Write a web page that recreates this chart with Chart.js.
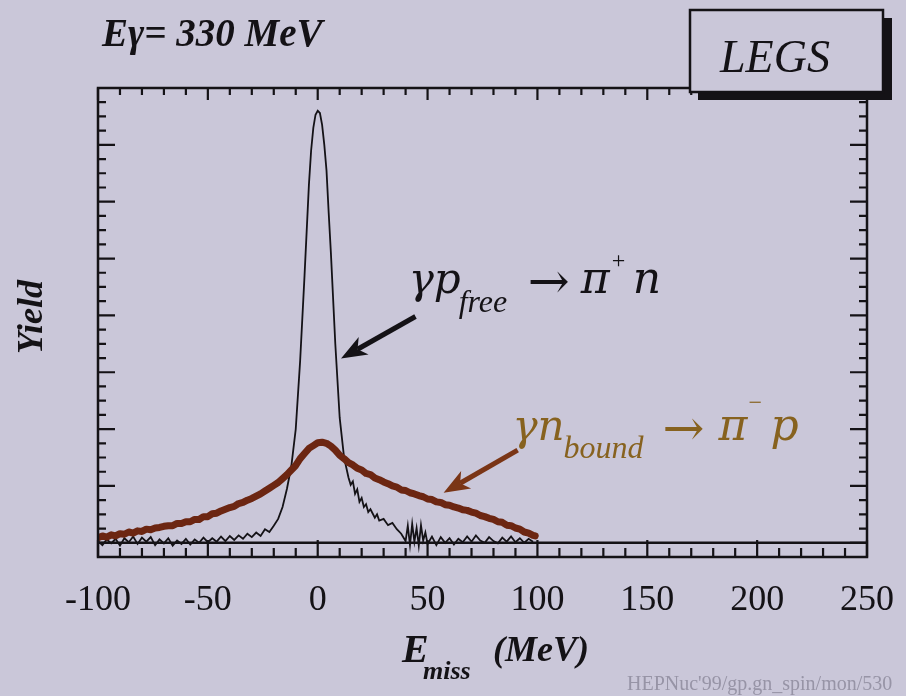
<!DOCTYPE html>
<html>
<head>
<meta charset="utf-8">
<script src="https://cdn.jsdelivr.net/npm/chart.js@4.4.1/dist/chart.umd.min.js"></script>
<style>
  html, body { margin: 0; padding: 0; background: #cac7d9; }
  canvas { display: block; }
</style>
</head>
<body>
<canvas id="chart" width="906" height="696"></canvas>
<script>
// Missing-energy spectra, E_gamma = 330 MeV (LEGS)
// Free-proton reaction  gamma p -> pi+ n
const freeE = [
  -100, -98, -96, -94, -92, -90, -88, -86, -84, -82, -80, -78, -76, -74, -72, -70,
  -68, -66, -64, -62, -60, -58, -56, -54, -52, -50, -48, -46, -44, -42, -40, -38,
  -36, -34, -32, -30, -28, -26, -24, -22, -20, -18, -16, -14, -12, -10, -8, -6,
  -4, -3, -2, -1, 0, 1, 2, 3, 4, 5, 6, 8, 10, 12, 14, 15, 16, 17, 18, 19, 20, 21,
  22, 23, 24, 26, 27, 28, 30, 32, 34, 36, 38, 40, 41, 42, 43, 44, 45, 46, 47, 48,
  49, 50, 52, 54, 56, 58, 60, 62, 64, 66, 68, 70, 72, 74, 76, 78, 80, 82, 84, 86,
  88, 90, 92, 94, 96, 98
];
const freeYield = [
  0.3, -0.4, 0.6, -0.1, 0.7, -0.5, 0.8, 0.1, 1.1, -0.2, 0.9, 0.2, 1.0, -0.4, 0.6, -0.1,
  0.8, -0.5, 0.4, -0.2, 0.7, -0.3, 0.6, 0.0, 0.9, 0.1, 0.8, 0.2, 1.1, 0.3, 1.2, 0.5,
  1.3, 0.7, 1.6, 1.0, 1.8, 1.2, 2.4, 1.9, 3.0, 4.2, 6.3, 9.5, 13.5, 20.0, 32.0, 47.0,
  63.0, 69.0, 73.0, 75.3, 76.0, 75.6, 73.5, 70.0, 65.5, 58.0, 51.0, 35.0, 22.0, 15.0, 11.5, 10.2, 10.8, 8.6, 9.4, 7.2, 7.9, 6.3,
  6.8, 5.4, 5.9, 4.4, 5.0, 3.9, 4.2, 3.1, 3.5, 2.4, 1.6, 0.3, 3.0, -0.4, 3.3, 0.2, 2.6, -0.5, 3.1, 0.4,
  1.8, -0.2, 1.1, -0.4, 1.0, 0.0, 0.8, -0.3, 0.7, 0.1, 1.1, 0.2, 1.3, 0.4, 0.0, 1.0, 0.3, -0.1, 0.9, 0.2,
  1.1, 0.1, 0.8, 0.0, 0.7, 0.2
];

// Bound-neutron reaction  gamma n -> pi- p
const boundE = [
  -100, -98, -96, -94, -92, -90, -88, -86, -84, -82, -80, -78, -76, -74, -72, -70,
  -68, -66, -64, -62, -60, -58, -56, -54, -52, -50, -48, -46, -44, -42, -40, -38,
  -36, -34, -32, -30, -28, -26, -24, -22, -20, -18, -16, -14, -12, -10, -8, -6,
  -4, -2, 0, 2, 4, 6, 8, 10, 12, 14, 16, 18, 20, 22, 24, 26, 28, 30, 32, 34,
  36, 38, 40, 42, 44, 46, 48, 50, 52, 54, 56, 58, 60, 62, 64, 66, 68, 70, 72, 74,
  76, 78, 80, 82, 84, 86, 88, 90, 92, 94, 96, 98, 99
];
const boundYield = [
  0.9, 1.2, 1.0, 1.4, 1.2, 1.6, 1.5, 1.9, 1.7, 2.1, 2.0, 2.4, 2.3, 2.6, 2.7, 2.9,
  3.0, 3.0, 3.4, 3.4, 3.7, 3.7, 4.1, 4.1, 4.6, 4.6, 5.1, 5.2, 5.6, 5.9, 6.2, 6.4,
  6.9, 7.1, 7.5, 7.8, 8.2, 8.6, 9.1, 9.6, 10.1, 10.6, 11.3, 12.0, 12.8, 13.6, 14.8, 15.7,
  16.6, 17.1, 17.6, 17.7, 17.5, 17.0, 16.3, 15.4, 14.8, 14.1, 13.7, 13.1, 12.8, 12.2, 12.0, 11.4, 11.1, 10.7, 10.4, 10.0,
  9.8, 9.3, 9.2, 8.8, 8.6, 8.3, 8.1, 7.7, 7.6, 7.2, 7.1, 6.7, 6.6, 6.3, 6.1, 5.8, 5.7, 5.4, 5.2, 4.8,
  4.6, 4.3, 4.1, 3.7, 3.6, 3.1, 3.0, 2.6, 2.4, 1.9, 1.7, 1.3, 1.2
];

// Axis settings
const xTickValues = [-100, -50, 0, 50, 100, 150, 200, 250];
const xRange = [-100, 250];
const yRange = [-2.5, 80];

// Annotation anchors (data coordinates)
const freeLabelAt = { x: 41.4, y: 43.9 };
const boundLabelAt = { x: 88.6, y: 18.1 };
const freeArrow = { from: { x: 44.5, y: 39.8 }, to: { x: 10.6, y: 32.4 } };
const boundArrow = { from: { x: 91.0, y: 16.3 }, to: { x: 57.3, y: 8.8 } };

const BG = '#cac7d9';
const INK = '#141216';
const BROWN_LINE = '#6c2612';
const BROWN_TEXT = '#87621f';
const BROWN_ARROW = '#7a3516';
const SERIF = '"Liberation Serif", "DejaVu Serif", serif';
const WIDE = '"DejaVu Serif", "Liberation Serif", serif';

const toPoints = (xs, ys) => xs.map((x, i) => ({ x, y: ys[i] }));

function drawArrow(ctx, x1, y1, x2, y2, color) {
  const ang = Math.atan2(y2 - y1, x2 - x1);
  const headLen = 26, headHalf = 10, notch = 7;
  const bx = x2 - Math.cos(ang) * (headLen - notch);
  const by = y2 - Math.sin(ang) * (headLen - notch);
  ctx.save();
  ctx.strokeStyle = color;
  ctx.fillStyle = color;
  ctx.lineWidth = 5;
  ctx.lineCap = 'butt';
  ctx.beginPath();
  ctx.moveTo(x1, y1);
  ctx.lineTo(bx, by);
  ctx.stroke();
  const hx = x2 - Math.cos(ang) * headLen;
  const hy = y2 - Math.sin(ang) * headLen;
  const px = -Math.sin(ang), py = Math.cos(ang);
  ctx.beginPath();
  ctx.moveTo(x2, y2);
  ctx.lineTo(hx + px * headHalf, hy + py * headHalf);
  ctx.lineTo(bx, by);
  ctx.lineTo(hx - px * headHalf, hy - py * headHalf);
  ctx.closePath();
  ctx.fill();
  ctx.restore();
}

function text(ctx, str, x, y, font, color) {
  ctx.font = font;
  ctx.fillStyle = color;
  ctx.fillText(str, x, y);
}

const decor = {
  id: 'decor',
  beforeDraw(chart) {
    const ctx = chart.ctx;
    ctx.save();
    ctx.fillStyle = BG;
    ctx.fillRect(0, 0, chart.width, chart.height);
    ctx.restore();
  },
  afterDatasetsDraw(chart) {
    const ctx = chart.ctx;
    const xs = chart.scales.x, ys = chart.scales.y;
    const { left, right, top, bottom } = chart.chartArea;
    ctx.save();
    ctx.strokeStyle = INK;
    ctx.lineWidth = 2.5;
    ctx.lineCap = 'butt';
    // zero line
    const y0 = ys.getPixelForValue(0);
    ctx.beginPath();
    ctx.moveTo(left, y0);
    ctx.lineTo(right, y0);
    ctx.stroke();
    // frame
    ctx.strokeRect(left, top, right - left, bottom - top);
    // x ticks, every 10 MeV, longer every 50
    ctx.lineWidth = 2.2;
    ctx.beginPath();
    for (let v = xRange[0]; v <= xRange[1]; v += 10) {
      const px = xs.getPixelForValue(v);
      const major = v % 50 === 0;
      ctx.moveTo(px, top);
      ctx.lineTo(px, top + (major ? 12 : 7));
      ctx.moveTo(px, bottom);
      ctx.lineTo(px, bottom - (major ? 17 : 9));
    }
    // y ticks, every 2.5, longer every 10
    for (let v = 0; v <= yRange[1]; v += 2.5) {
      const py = ys.getPixelForValue(v);
      const major = v % 10 === 0;
      ctx.moveTo(left, py);
      ctx.lineTo(left + (major ? 17 : 8), py);
      ctx.moveTo(right, py);
      ctx.lineTo(right - (major ? 17 : 8), py);
    }
    ctx.stroke();
    ctx.restore();
  },
  afterDraw(chart) {
    const ctx = chart.ctx;
    const xs = chart.scales.x, ys = chart.scales.y;
    const X = v => xs.getPixelForValue(v);
    const Y = v => ys.getPixelForValue(v);
    ctx.save();
    ctx.textBaseline = 'alphabetic';
    ctx.textAlign = 'left';

    // arrows
    drawArrow(ctx, X(freeArrow.from.x), Y(freeArrow.from.y), X(freeArrow.to.x), Y(freeArrow.to.y), INK);
    drawArrow(ctx, X(boundArrow.from.x), Y(boundArrow.from.y), X(boundArrow.to.x), Y(boundArrow.to.y), BROWN_ARROW);

    // gamma p_free -> pi+ n
    let ax = X(freeLabelAt.x), ay = Y(freeLabelAt.y);
    text(ctx, 'γp', ax, ay, `italic 42px ${WIDE}`, INK);
    text(ctx, 'free', ax + 50, ay + 19, `italic 32px ${SERIF}`, INK);
    text(ctx, '→', ax + 119, ay + 5, `50px ${WIDE}`, INK);
    text(ctx, 'π', ax + 172, ay, `italic 44px ${WIDE}`, INK);
    text(ctx, '+', ax + 203, ay - 25, `24px ${SERIF}`, INK);
    text(ctx, 'n', ax + 224, ay, `italic 44px ${WIDE}`, INK);

    // gamma n_bound -> pi- p
    ax = X(boundLabelAt.x); ay = Y(boundLabelAt.y);
    text(ctx, 'γn', ax, ay, `italic 42px ${WIDE}`, BROWN_TEXT);
    text(ctx, 'bound', ax + 51, ay + 18, `italic 32px ${SERIF}`, BROWN_TEXT);
    text(ctx, '→', ax + 150, ay + 5, `50px ${WIDE}`, BROWN_TEXT);
    text(ctx, 'π', ax + 206, ay, `italic 44px ${WIDE}`, BROWN_TEXT);
    text(ctx, '−', ax + 236, ay - 30, `24px ${SERIF}`, BROWN_TEXT);
    text(ctx, 'p', ax + 258, ay, `italic 44px ${WIDE}`, BROWN_TEXT);

    // header
    text(ctx, 'Eγ= 330 MeV', 102, 46, `italic bold 39px ${SERIF}`, INK);

    // LEGS box with drop shadow
    ctx.fillStyle = INK;
    ctx.fillRect(698, 18, 194, 82);
    ctx.fillStyle = BG;
    ctx.fillRect(690, 10, 193, 82);
    ctx.strokeStyle = INK;
    ctx.lineWidth = 2.5;
    ctx.strokeRect(690, 10, 193, 82);
    text(ctx, 'LEGS', 720, 72, `italic 46px ${SERIF}`, INK);

    // axis titles
    text(ctx, 'E', 402, 662, `italic bold 40px ${SERIF}`, INK);
    text(ctx, 'miss', 423, 679, `italic bold 26px ${SERIF}`, INK);
    text(ctx, '(MeV)', 493, 661, `italic bold 36px ${SERIF}`, INK);

    ctx.save();
    ctx.translate(42, 317);
    ctx.rotate(-Math.PI / 2);
    ctx.textAlign = 'center';
    text(ctx, 'Yield', 0, 0, `italic bold 36px ${SERIF}`, INK);
    ctx.restore();

    // slide reference
    text(ctx, "HEPNuc'99/gp.gn_spin/mon/530", 627, 690, `20px ${SERIF}`, '#9794a6');
    ctx.restore();
  }
};

new Chart(document.getElementById('chart'), {
  type: 'line',
  data: {
    datasets: [
      {
        label: 'γn bound → π⁻ p',
        data: toPoints(boundE, boundYield),
        borderColor: BROWN_LINE,
        borderWidth: 7,
        borderJoinStyle: 'round',
        borderCapStyle: 'round',
        pointRadius: 0,
        tension: 0,
        fill: false
      },
      {
        label: 'γp free → π⁺ n',
        data: toPoints(freeE, freeYield),
        borderColor: INK,
        borderWidth: 1.8,
        pointRadius: 0,
        tension: 0,
        fill: false
      }
    ]
  },
  options: {
    responsive: false,
    animation: false,
    devicePixelRatio: 1,
    layout: { padding: { left: 98, right: 39, top: 88, bottom: 0 } },
    plugins: {
      legend: { display: false },
      tooltip: { enabled: false },
      title: { display: false }
    },
    scales: {
      x: {
        type: 'linear',
        min: xRange[0],
        max: xRange[1],
        afterFit: s => { s.height = 139; s.paddingLeft = 0; s.paddingRight = 0; },
        afterBuildTicks: s => { s.ticks = xTickValues.map(v => ({ value: v })); },
        grid: { display: false, drawTicks: false },
        border: { display: false },
        ticks: {
          padding: 22,
          color: INK,
          font: { family: SERIF, size: 36 },
          maxRotation: 0,
          callback: v => String(v)
        }
      },
      y: {
        type: 'linear',
        display: false,
        min: yRange[0],
        max: yRange[1]
      }
    }
  },
  plugins: [decor]
});
</script>
</body>
</html>
